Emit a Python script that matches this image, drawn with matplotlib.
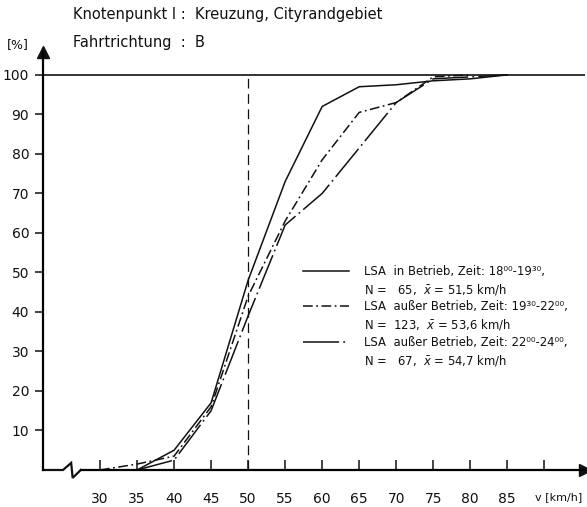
import matplotlib
matplotlib.use('Agg')
import matplotlib.pyplot as plt
from matplotlib.lines import Line2D

plt.rcParams['font.family'] = ['DejaVu Sans']
plt.rcParams['lines.scale_dashes'] = False

# Cumulative speed distributions [%] over speed v [km/h]
v_in_betrieb = [35, 40, 45, 50, 55, 60, 65, 70, 75, 80, 85]
p_in_betrieb = [0, 5, 17, 48, 73, 92, 97, 97.5, 98.5, 99, 100]

v_ausser_1 = [30, 35, 40, 45, 50, 55, 60, 65, 70, 75, 80]
p_ausser_1 = [0, 1.5, 3.5, 16, 44, 63, 78.5, 90.5, 93, 99.5, 100]

v_ausser_2 = [35, 40, 45, 50, 55, 60, 65, 70, 75, 80, 85]
p_ausser_2 = [0, 2.5, 15, 39, 62, 70, 81.5, 93, 99, 99.5, 100]

labels = [
    ('LSA  in Betrieb, Zeit: 18⁰⁰-19³⁰,', r'N =   65,  $\bar{x}$ = 51,5 km/h'),
    ('LSA  außer Betrieb, Zeit: 19³⁰-22⁰⁰,', r'N =  123,  $\bar{x}$ = 53,6 km/h'),
    ('LSA  außer Betrieb, Zeit: 22⁰⁰-24⁰⁰,', r'N =   67,  $\bar{x}$ = 54,7 km/h'),
]

x_ticks = [30, 35, 40, 45, 50, 55, 60, 65, 70, 75, 80, 85, 90]
x_ticklabels = ['30', '35', '40', '45', '50', '55', '60', '65', '70', '75', '80', '85', '']
y_ticks = [10, 20, 30, 40, 50, 60, 70, 80, 90, 100]

ink = '#111111'
styles = [
    dict(linestyle='-'),
    dict(dashes=(7, 2.5, 1.3, 2.5)),
    dict(dashes=(26, 3, 1.3, 3)),
]

fig = plt.figure(figsize=(5.87, 5.07), dpi=100)
ax = fig.add_axes([0.0733, 0.073, 0.9233, 0.8245])
ax.set_xlim(22.3, 95.5)
ax.set_ylim(0, 105.8)

series = [(v_in_betrieb, p_in_betrieb), (v_ausser_1, p_ausser_1), (v_ausser_2, p_ausser_2)]
handles = []
for (vx, py), st in zip(series, styles):
    h, = ax.plot(vx, py, color=ink, lw=1.1, **st)
    handles.append(h)

# 100 % line and 50 km/h marker
ax.axhline(100, color=ink, lw=1.2)
ax.plot([50, 50], [0, 100], color=ink, lw=0.9, dashes=(7, 4))

# axes with arrows and a break in the v axis
for s in ['top', 'right']:
    ax.spines[s].set_visible(False)
ax.spines['left'].set_linewidth(1.6)
ax.spines['bottom'].set_linewidth(1.6)
ax.spines['bottom'].set_bounds(27.4, 95.5)
ax.plot([22.3, 25.0, 26.1, 26.3, 27.4], [0, 0, 1.8, -2.0, 0], color=ink, lw=1.6,
        clip_on=False, solid_joinstyle='miter')
ax.plot(1, 0, '>', color=ink, ms=8, transform=ax.transAxes, clip_on=False)
ax.plot(0, 1, '^', color=ink, ms=8, transform=ax.transAxes, clip_on=False)

ax.set_xticks(x_ticks)
ax.set_xticklabels(x_ticklabels)
ax.set_yticks(y_ticks)
ax.tick_params(axis='x', direction='in', length=7, width=1.1, pad=16, labelsize=10, colors=ink)
ax.tick_params(axis='y', direction='out', length=6, width=1.1, pad=4, labelsize=10, colors=ink)

fig.text(7 / 587, 1 - 45 / 507, '[%]', fontsize=9, color=ink, va='center')
fig.text(535 / 587, 1 - 497 / 507, 'v [km/h]', fontsize=8, color=ink, va='center')
fig.text(73 / 587, 1 - 15 / 507, 'Knotenpunkt I :  Kreuzung, Cityrandgebiet', fontsize=10.5,
         color=ink, va='center')
fig.text(73 / 587, 1 - 43 / 507, 'Fahrtrichtung  :  B', fontsize=10.5, color=ink, va='center')

blank = Line2D([], [], linestyle='none')
leg_handles, leg_labels = [], []
for h, (l1, l2) in zip(handles, labels):
    leg_handles += [h, blank]
    leg_labels += [l1, l2]
ax.legend(leg_handles, leg_labels, loc='upper left', bbox_to_anchor=(303 / 587, 1 - 265 / 507),
          bbox_transform=fig.transFigure, frameon=False, borderpad=0, borderaxespad=0,
          fontsize=8.4, handlelength=3.9, handletextpad=1.3, labelspacing=0.32,
          labelcolor=ink)

fig.savefig('out.png', dpi=100, facecolor='white')
